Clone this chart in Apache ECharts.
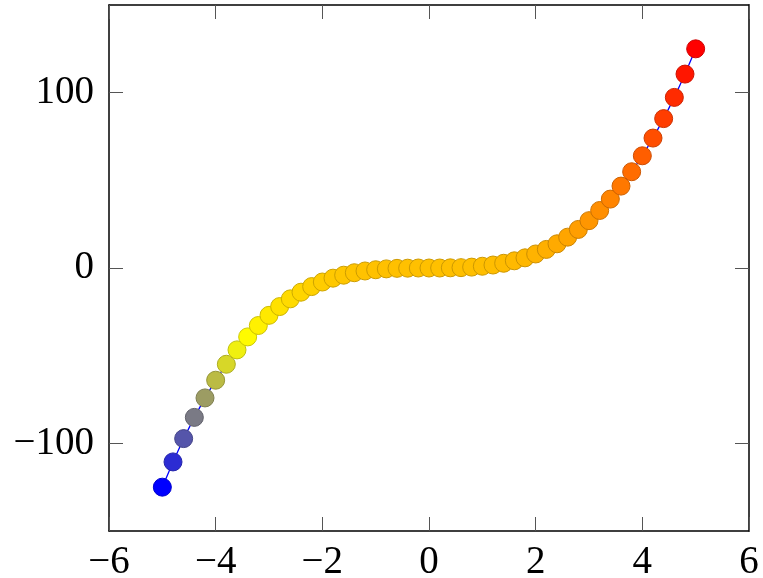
<!DOCTYPE html>
<html>
<head>
<meta charset="utf-8">
<script src="https://cdn.jsdelivr.net/npm/echarts@6/dist/echarts.min.js"></script>
<style>
  html, body { margin: 0; padding: 0; background: #fff; }
  #chart { width: 763px; height: 578px; }
</style>
</head>
<body>
<div id="chart"></div>
<script>
// sampled points
const xValues = [-5, -4.8, -4.6, -4.4, -4.2, -4, -3.8, -3.6, -3.4, -3.2, -3, -2.8, -2.6, -2.4, -2.2, -2, -1.8, -1.6, -1.4, -1.2, -1, -0.8, -0.6, -0.4, -0.2,
  0, 0.2, 0.4, 0.6, 0.8, 1, 1.2, 1.4, 1.6, 1.8, 2, 2.2, 2.4, 2.6, 2.8, 3, 3.2, 3.4, 3.6, 3.8, 4, 4.2, 4.4, 4.6, 4.8, 5]
const yValues = [-125, -110.6, -97.3, -85.2, -74.1, -64, -54.9, -46.7, -39.3, -32.8, -27, -22, -17.6, -13.8, -10.6, -8, -5.8, -4.1, -2.7, -1.7, -1, -0.5, -0.2, -0.1, 0,
  0, 0, 0.1, 0.2, 0.5, 1, 1.7, 2.7, 4.1, 5.8, 8, 10.6, 13.8, 17.6, 22, 27, 32.8, 39.3, 46.7, 54.9, 64, 74.1, 85.2, 97.3, 110.6, 125]
const xTicks = [-6, -4, -2, 0, 2, 4, 6]
const yTicks = [-100, 0, 100]

// pgfplots "hot" colormap: blue -> yellow -> orange -> red
const stops = [[0, 0, 255], [255, 255, 0], [255, 128, 0], [255, 0, 0]]
const yMin = Math.min(...yValues), yMax = Math.max(...yValues)
function mapColor(v, dark) {
  let t = (v - yMin) / (yMax - yMin)
  t = Math.max(0, Math.min(1, t)) * 3
  let i = Math.min(2, Math.floor(t))
  let f = t - i
  let c = stops[i].map((a, k) => a + (stops[i + 1][k] - a) * f)
  if (dark) c = c.map(a => a * 0.8)
  return 'rgb(' + c.map(Math.round).join(',') + ')'
}

const pts = xValues.map((x, i) => [x, yValues[i]])
const fmt = v => String(v).replace('-', '\u2212')
const labelFont = { fontFamily: 'Liberation Serif', fontSize: 39, color: '#000' }
const frame = { onZero: false, lineStyle: { color: '#000', width: 1.5 } }
const tick = { inside: true, length: 14, lineStyle: { color: '#555', width: 1 } }

const chart = echarts.init(document.getElementById('chart'))
chart.setOption({
  animation: false,
  grid: { left: 109, right: 14, top: 5, bottom: 47, outerBoundsMode: 'none', containLabel: false },
  xAxis: [
    {
      type: 'value', min: -6, max: 6, interval: 2,
      axisLine: frame,
      axisTick: { ...tick, customValues: xTicks },
      axisLabel: { ...labelFont, margin: 12, formatter: fmt, customValues: xTicks },
      splitLine: { show: false }
    },
    {
      type: 'value', min: -6, max: 6, interval: 2, position: 'top',
      axisLine: frame,
      axisTick: { ...tick, customValues: xTicks },
      axisLabel: { show: false },
      splitLine: { show: false }
    }
  ],
  yAxis: [
    {
      type: 'value', min: -150, max: 150,
      axisLine: frame,
      axisTick: { ...tick, customValues: yTicks },
      axisLabel: { ...labelFont, margin: 15, formatter: fmt, customValues: yTicks },
      splitLine: { show: false }
    },
    {
      type: 'value', min: -150, max: 150, position: 'right',
      axisLine: frame,
      axisTick: { ...tick, customValues: yTicks },
      axisLabel: { show: false },
      splitLine: { show: false }
    }
  ],
  series: [
    {
      type: 'line',
      data: pts,
      showSymbol: false,
      lineStyle: { color: '#0000ff', width: 1.3 },
      z: 2
    },
    {
      type: 'scatter',
      symbolSize: 18,
      data: pts.map(p => ({
        value: p,
        itemStyle: { color: mapColor(p[1], false), borderColor: mapColor(p[1], true), borderWidth: 1, opacity: 1 }
      })),
      z: 3
    }
  ]
})
</script>
</body>
</html>
